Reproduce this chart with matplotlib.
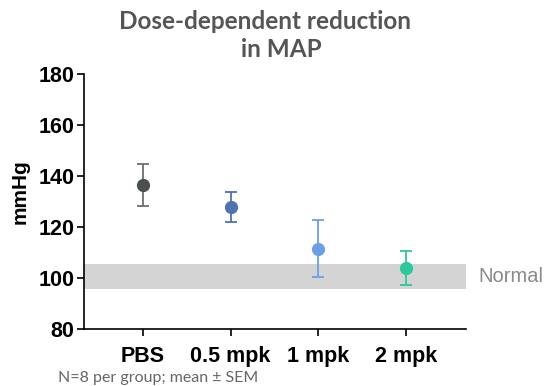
import numpy as np
import matplotlib.pyplot as plt

groups = ["PBS", "0.5 mpk", "1 mpk", "2 mpk"]
means = [136.5, 127.7, 111.5, 103.9]
sems = [8.2, 5.9, 11.2, 6.5]
colors = ["#4b4f4d", "#4f72b0", "#6b9fe6", "#2ec79b"]
err_colors = ["#6e6e6e", "#4f72b0", "#6b9fe6", "#2ec79b"]
normal_range = (95.5, 105.5)

fig = plt.figure(figsize=(5.48, 3.86), dpi=100)
ax = fig.add_axes([84 / 548, 57 / 386, 382 / 548, 255 / 386])

x = np.arange(len(groups))
ax.axhspan(normal_range[0], normal_range[1], color="#d4d4d4", lw=0, zorder=0)
for i in range(len(groups)):
    ax.errorbar(x[i], means[i], yerr=sems[i], fmt="none", ecolor=err_colors[i],
                elinewidth=1.3, capsize=4.5, capthick=1.3, zorder=2)
    ax.plot(x[i], means[i], "o", color=colors[i], markersize=8.5, zorder=3)

ax.set_xlim(-0.673, 3.684)
ax.set_ylim(80, 180)
ax.set_yticks(range(80, 181, 20))
ax.set_xticks(x)
ax.set_xticklabels(groups)
for s in ["top", "right"]:
    ax.spines[s].set_visible(False)
for s in ["left", "bottom"]:
    ax.spines[s].set_linewidth(1.2)
ax.tick_params(direction="out", length=5, width=1.2, pad=2)
ax.tick_params(axis="x", pad=7)
for lab in ax.get_xticklabels() + ax.get_yticklabels():
    lab.set_fontfamily("Liberation Sans")
    lab.set_fontweight("bold")
    lab.set_fontsize(15.5)
ax.set_ylabel("mmHg", fontfamily="Liberation Sans", fontweight="bold",
              fontsize=15, va="center")
ax.yaxis.set_label_coords(-0.168, 0.537)

ax.text(3.82, np.mean(normal_range), "Normal", fontfamily="Liberation Sans",
        fontsize=14.5, color="#8a8a8a", va="center", ha="left", clip_on=False)

title_kw = dict(ha="center", va="baseline", fontfamily="Lato", fontweight="bold",
                fontsize=17.5, color="#555555")
fig.text(265 / 548, 1 - 29 / 386, "Dose-dependent reduction", **title_kw)
fig.text(281 / 548, 1 - 57 / 386, "in MAP", **title_kw)
fig.text(58 / 548, 1 - 378 / 386, "N=8 per group; mean \u00b1 SEM", ha="left",
         va="center", fontfamily="Lato", fontsize=11.5, color="#666666")

fig.savefig("out.png", dpi=100)
